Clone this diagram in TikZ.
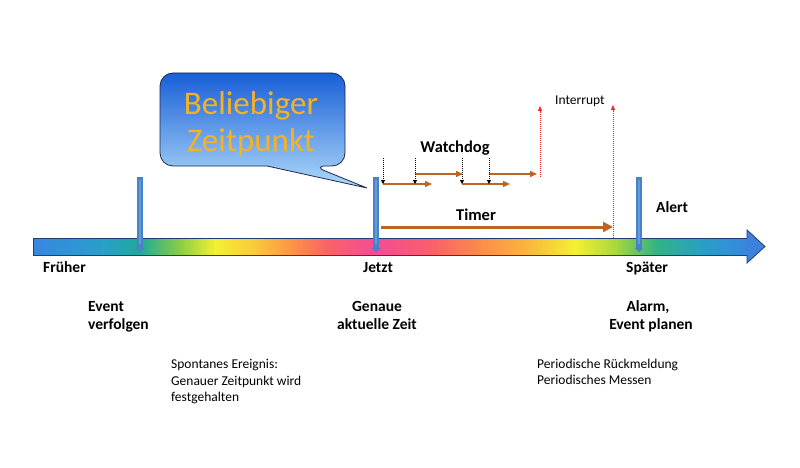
\documentclass[tikz,border=0pt]{standalone}
\usepackage{fontspec}
\setmainfont{Carlito}
\usetikzlibrary{arrows.meta}
\definecolor{s1}{RGB}{55,135,225}
\definecolor{s2}{RGB}{40,160,200}
\definecolor{s3}{RGB}{30,170,150}
\definecolor{s4}{RGB}{140,205,70}
\definecolor{s5}{RGB}{245,240,50}
\definecolor{s6}{RGB}{250,200,60}
\definecolor{s7}{RGB}{250,150,70}
\definecolor{s8}{RGB}{250,100,100}
\definecolor{s9}{RGB}{245,75,150}
\definecolor{s10}{RGB}{250,95,105}
\definecolor{s11}{RGB}{250,140,75}
\definecolor{s12}{RGB}{250,185,60}
\definecolor{s13}{RGB}{245,240,50}
\definecolor{s14}{RGB}{170,215,60}
\definecolor{s15}{RGB}{50,180,130}
\definecolor{s16}{RGB}{40,160,195}
\definecolor{s17}{RGB}{55,135,225}
\definecolor{axisedge}{RGB}{35,60,120}
\definecolor{headblue}{RGB}{60,130,220}
\definecolor{markblue}{RGB}{72,130,200}
\definecolor{markhl}{RGB}{100,155,218}
\definecolor{brownarr}{RGB}{190,100,35}
\definecolor{intred}{RGB}{235,40,40}
\definecolor{bubtop}{RGB}{25,95,215}
\definecolor{bubmid}{RGB}{100,165,240}
\definecolor{bubbot}{RGB}{175,218,250}
\definecolor{bubedge}{RGB}{30,40,70}
\definecolor{bubtext}{RGB}{245,178,35}
\tikzset{
  boldlbl/.style={font=\fontsize{15.5}{18}\selectfont\bfseries, inner sep=0pt},
  biglbl/.style={font=\fontsize{16.5}{18}\selectfont\bfseries, inner sep=0pt},
  plainlbl/.style={font=\fontsize{13.5}{16}\selectfont, inner sep=0pt},
  bubbletext/.style={font=\fontsize{33}{36}\selectfont, text=bubtext, inner sep=0pt},
  markerbar/.style={line width=6.5pt, draw=markblue, -{Triangle[length=4pt,width=9pt]}},
  markerhl/.style={line width=1.5pt, draw=markhl},
  timerarrow/.style={line width=3pt, draw=brownarr, -{Triangle[length=10pt,width=10pt]}},
  wdarrow/.style={line width=1.3pt, draw=brownarr, -{Triangle[length=7pt,width=6pt]}},
  tickarrow/.style={line width=0.8pt, draw=black, dash pattern=on 1pt off 1pt, -{Triangle[length=4pt,width=4pt]}},
  intarrow/.style={line width=0.8pt, draw=intred, dash pattern=on 1pt off 1pt, -{Triangle[length=5pt,width=4pt]}},
}
\begin{document}
\begin{tikzpicture}[x=1pt,y=-1pt]
\useasboundingbox (0,0) rectangle (800,468);
% time axis body
\foreach \xa/\ca/\xb/\cb in {33/s1/105/s2,105/s2/140/s3,140/s3/180/s4,180/s4/215/s5,215/s5/255/s6,255/s6/290/s7,290/s7/325/s8,325/s8/375/s9,375/s9/430/s10,430/s10/480/s11,480/s11/530/s12,530/s12/575/s13,575/s13/615/s14,615/s14/655/s15,655/s15/700/s16,700/s16/747/s17}
  \fill[left color=\ca, right color=\cb] (\xa,238) rectangle (\xb+0.6,255);
\filldraw[fill=headblue, draw=axisedge, line width=0.8pt, line join=miter] (747,238) -- (747,230) -- (765,246.5) -- (747,263) -- (747,255);
\draw[axisedge, line width=0.6pt] (747,238) -- (33,238) -- (33,255) -- (747,255);
% bubble
\shade[top color=bubtop, middle color=bubmid, bottom color=bubbot, draw=bubedge, line width=0.8pt]
  (313,166) -- (367,188) -- (267,166) [rounded corners=13pt] -- (160,166) -- (160,73) -- (345,73) -- (345,166) -- cycle;
\node[bubbletext, anchor=base] (b1) at (251,114) {Beliebiger};
\node[bubbletext, anchor=base] (b2) at (251,151) {Zeitpunkt};
% markers
\coordinate (m1t) at (140,177); \coordinate (m1b) at (140,252);
\coordinate (m2t) at (376,177); \coordinate (m2b) at (376,252);
\coordinate (m3t) at (639,177); \coordinate (m3b) at (639,252);
\foreach \m in {m1,m2,m3} {
  \draw[markerbar] (\m t) -- (\m b);
  \draw[markerhl] ([yshift=-3pt]\m t) -- ([yshift=8pt]\m b);
}
% timer
\coordinate (ts) at (381,227); \coordinate (te) at (613,227);
\draw[timerarrow] (ts) -- (te);
\node[biglbl, anchor=base] (timer) at (476,220) {Timer};
% watchdog
\coordinate (w1t) at (383,158); \coordinate (w1b) at (383,184);
\coordinate (w2t) at (415,158); \coordinate (w2b) at (415,184);
\coordinate (w3t) at (462,158); \coordinate (w3b) at (462,184);
\coordinate (w4t) at (489,158); \coordinate (w4b) at (489,184);
\coordinate (l1e) at (432,184); \coordinate (l2e) at (510,184);
\coordinate (u1s) at (415,174); \coordinate (u1e) at (463,174);
\coordinate (u2s) at (489,174); \coordinate (u2e) at (537,174);
\draw[wdarrow] (w1b) -- (l1e);
\draw[wdarrow] (w3b) -- (l2e);
\draw[wdarrow] (u1s) -- (u1e);
\draw[wdarrow] (u2s) -- (u2e);
\foreach \w in {w1,w2,w3,w4} \draw[tickarrow] (\w t) -- (\w b);
\node[biglbl, anchor=base] (wd) at (455,153) {Watchdog};
% interrupts
\coordinate (i1b) at (540,177); \coordinate (i1t) at (540,106);
\coordinate (i2b) at (613,238); \coordinate (i2t) at (613,105);
\draw[intarrow] (i1b) -- (i1t);
\draw[intarrow] (i2b) -- (i2t);
\node[plainlbl, anchor=base west] (intr) at (555,104.5) {Interrupt};
% labels
\node[boldlbl, anchor=base west] (fr) at (43,272) {Früher};
\node[boldlbl, anchor=base] (je) at (378,272) {Jetzt};
\node[boldlbl, anchor=base] (sp) at (647,272) {Später};
\node[boldlbl, anchor=base west] (al) at (656,212) {Alert};
\node[boldlbl, anchor=base west] (ev1) at (88,311.5) {Event};
\node[boldlbl, anchor=base west] (ev2) at (88,329.5) {verfolgen};
\node[boldlbl, anchor=base] (ge1) at (377,311.5) {Genaue};
\node[boldlbl, anchor=base] (ge2) at (377,329.5) {aktuelle Zeit};
\node[boldlbl, anchor=base] (ala1) at (648,311.5) {Alarm,};
\node[boldlbl, anchor=base] (ala2) at (651,329.5) {Event planen};
\node[plainlbl, anchor=base west] (sp1) at (171,368.5) {Spontanes Ereignis:};
\node[plainlbl, anchor=base west] (sp2) at (171,385) {Genauer Zeitpunkt wird};
\node[plainlbl, anchor=base west] (sp3) at (171,401.5) {festgehalten};
\node[plainlbl, anchor=base west] (pe1) at (537,368) {Periodische Rückmeldung};
\node[plainlbl, anchor=base west] (pe2) at (537,384.5) {Periodisches Messen};
\end{tikzpicture}
\end{document}
